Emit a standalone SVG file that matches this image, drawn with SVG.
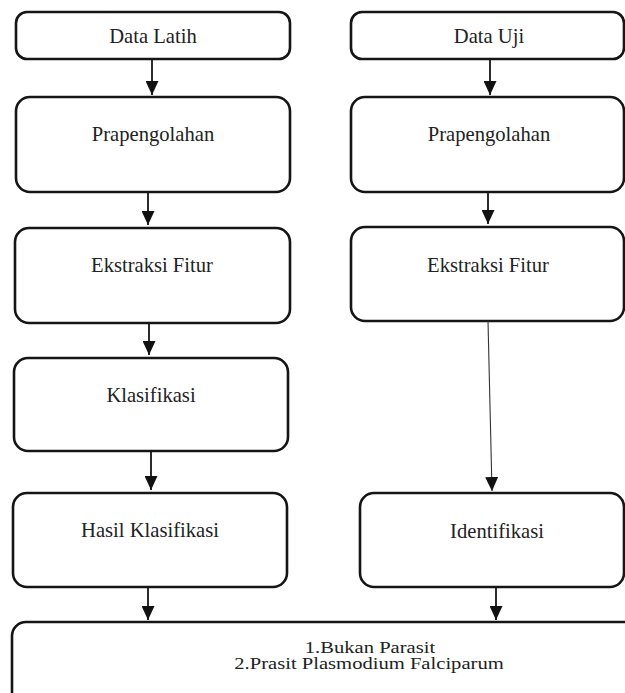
<svg xmlns="http://www.w3.org/2000/svg" width="625" height="693" viewBox="0 0 625 693">
<defs>
<marker id="ah" markerUnits="userSpaceOnUse" markerWidth="14" markerHeight="13" refX="14" refY="6.5" orient="auto">
<path d="M0,0 L14,6.5 L0,13 z" fill="#111"/>
</marker>
<style>
.box{fill:#fff;stroke:#151515;stroke-width:2.6}
.t{font-size:20.6px;fill:#222;text-anchor:middle}
.c{stroke:#151515;stroke-width:1.8;fill:none;marker-end:url(#ah)}
.thin{stroke:#333;stroke-width:1.1;fill:none;marker-end:url(#ah)}
</style>
</defs>
<rect width="625" height="693" fill="#fff"/>
<g font-family="Liberation Serif">
<g id="data-latih"><rect class="box" x="16" y="12" width="274" height="47" rx="11"/><text class="t" x="153" y="43" font-family="Liberation Serif">Data Latih</text></g>
<g id="prapengolahan-l"><rect class="box" x="16" y="97" width="274" height="95" rx="14"/><text class="t" x="153" y="141" font-family="Liberation Serif">Prapengolahan</text></g>
<g id="ekstraksi-l"><rect class="box" x="15" y="228" width="275" height="95" rx="14"/><text class="t" x="152" y="272" font-family="Liberation Serif">Ekstraksi Fitur</text></g>
<g id="klasifikasi"><rect class="box" x="14" y="358" width="274" height="93" rx="14"/><text class="t" x="151" y="402" font-family="Liberation Serif">Klasifikasi</text></g>
<g id="hasil"><rect class="box" x="13" y="493" width="274" height="94" rx="14"/><text class="t" x="150" y="537" font-family="Liberation Serif">Hasil Klasifikasi</text></g>
<g id="data-uji"><rect class="box" x="351" y="12" width="273" height="47" rx="11"/><text class="t" x="489" y="43" font-family="Liberation Serif">Data Uji</text></g>
<g id="prapengolahan-r"><rect class="box" x="351" y="97" width="273" height="95" rx="14"/><text class="t" x="489" y="141" font-family="Liberation Serif">Prapengolahan</text></g>
<g id="ekstraksi-r"><rect class="box" x="351" y="227" width="273" height="94" rx="14"/><text class="t" x="488" y="272" font-family="Liberation Serif">Ekstraksi Fitur</text></g>
<g id="identifikasi"><rect class="box" x="360" y="493" width="264" height="94" rx="14"/><text class="t" x="497" y="538" font-family="Liberation Serif">Identifikasi</text></g>
<g id="hasil-akhir"><rect class="box" x="12" y="622" width="640" height="100" rx="14"/>
<text class="t" font-family="Liberation Serif" transform="translate(370,653) scale(1,0.78)">1.Bukan Parasit</text>
<text class="t" font-family="Liberation Serif" transform="translate(369,669) scale(1,0.78)">2.Prasit Plasmodium Falciparum</text></g>
</g>
<g id="connectors">
<line class="c" x1="152" y1="59" x2="152" y2="95"/>
<line class="c" x1="148" y1="192" x2="148" y2="225"/>
<line class="c" x1="149" y1="323" x2="149" y2="355"/>
<line class="c" x1="151" y1="451" x2="151" y2="490"/>
<line class="c" x1="148" y1="587" x2="148" y2="620"/>
<line class="c" x1="490" y1="59" x2="490" y2="95"/>
<line class="c" x1="488" y1="192" x2="488" y2="224"/>
<line class="thin" x1="488" y1="321" x2="492" y2="491"/>
<line class="c" x1="496" y1="587" x2="496" y2="620"/>
</g>
</svg>
